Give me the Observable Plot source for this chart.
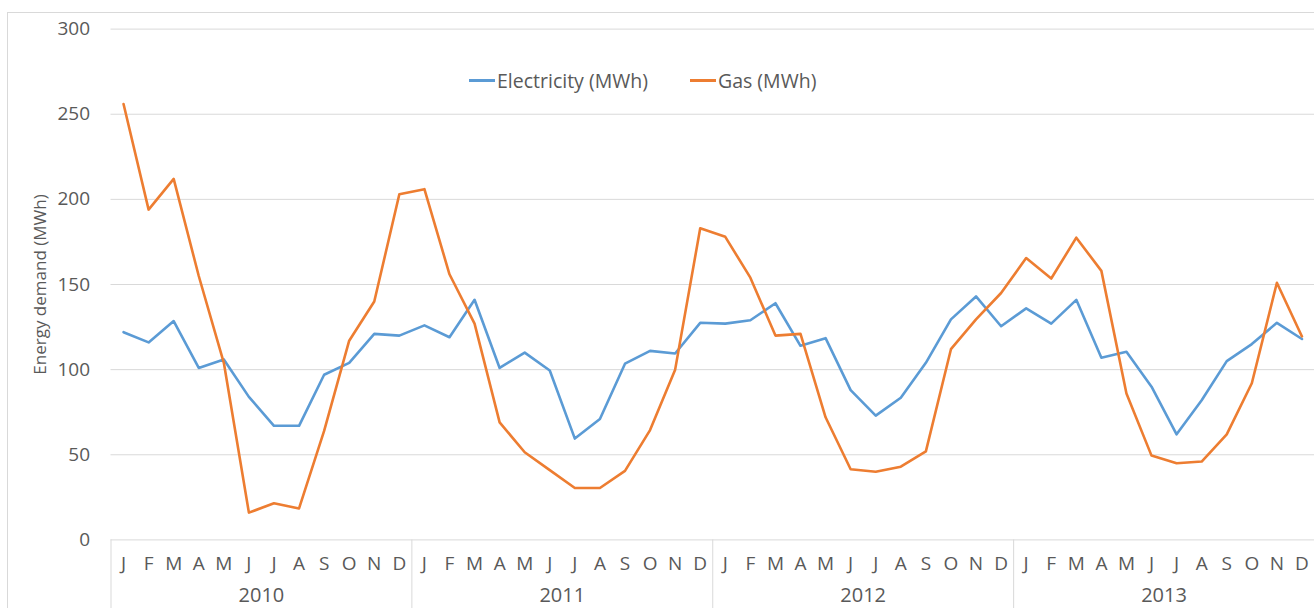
<!DOCTYPE html>
<html>
<head>
<meta charset="utf-8">
<script src="https://cdn.jsdelivr.net/npm/d3@7"></script>
<script src="https://cdn.jsdelivr.net/npm/@observablehq/plot@0.6"></script>
<style>
  html, body { margin: 0; padding: 0; background: #fff; overflow: hidden; }
  #wrap { position: relative; width: 1314px; height: 608px; }
  #border { position: absolute; left: 7px; top: 12px; width: 1400px; height: 700px;
            border: 1px solid #d9d9d9; box-sizing: border-box; }
  #chart { position: absolute; left: 0; top: 0; }
  #legend { position: absolute; top: 0; left: 0;
            font-family: "Open Sans", sans-serif; font-size: 19.5px; color: #595959; }
  #legend .item { position: absolute; top: 67px; display: flex; align-items: center; white-space: nowrap; }
  #legend .sw { display: inline-block; width: 26px; height: 0; border-top: 3px solid; margin-right: 2px; }
</style>
</head>
<body>
<div id="wrap">
  <div id="border"></div>
  <div id="chart"></div>
  <div id="legend"></div>
</div>
<script>
// Monthly energy demand, Jan 2010 – Dec 2013
const months = ["J", "F", "M", "A", "M", "J", "J", "A", "S", "O", "N", "D"];
const years = [2010, 2011, 2012, 2013];

const electricity = [
  122, 116, 128.5, 101, 106, 84, 67, 67, 97, 104, 121, 120,
  126, 119, 141, 101, 110, 99.5, 59.5, 71, 103.5, 111, 109.5, 127.5,
  127, 129, 139, 114, 118.5, 88, 73, 83.5, 104, 129.5, 143, 125.5,
  136, 127, 141, 107, 110.5, 90, 62, 82, 105, 115, 127.5, 118
];
const gas = [
  256, 194, 212, 155, 104, 16, 21.5, 18.5, 64, 117, 140, 203,
  206, 156, 127, 69, 51.5, 41, 30.5, 30.5, 40.5, 64.5, 100, 183,
  178, 154, 120, 121, 72, 41.5, 40, 43, 52, 112, 129.5, 145,
  165.5, 153.5, 177.5, 158, 86, 49.5, 45, 46, 62, 92, 151, 119.5
];

const seriesNames = ["Electricity (MWh)", "Gas (MWh)"];
const seriesColors = ["#5B9BD5", "#ED7D31"];
const yTicks = [0, 50, 100, 150, 200, 250, 300];

const rows = [];
electricity.forEach((v, i) => rows.push({i, value: v, series: seriesNames[0]}));
gas.forEach((v, i) => rows.push({i, value: v, series: seriesNames[1]}));

const monthIdx = d3.range(electricity.length);
const yearBounds = [-0.5, ...years.slice(1).map((y, k) => (k + 1) * 12 - 0.5)];
const yearMid = years.map((y, k) => k * 12 + 5.5);

const font = "'Open Sans', sans-serif";
const ink = "#595959";

const chart = Plot.plot({
  width: 1314,
  height: 608,
  marginLeft: 110.5,
  marginRight: 0,
  marginTop: 28.6,
  marginBottom: 68.6,
  style: {fontFamily: font, fontSize: "16px", color: ink, background: "transparent", overflow: "visible"},
  x: {domain: [-0.5, 47.5], axis: null},
  y: {domain: [0, 300], axis: null},
  color: {domain: seriesNames, range: seriesColors},
  marks: [
    Plot.ruleY(yTicks.filter(t => t > 0), {stroke: "#d9d9d9", strokeWidth: 1}),
    Plot.ruleY([0], {stroke: "#d9d9d9", strokeWidth: 1}),
    // group separators below the category axis
    Plot.axisX(yearBounds, {tickSize: 70, tickFormat: () => "", label: null, stroke: "#d9d9d9", strokeOpacity: 1}),
    // month letters
    Plot.axisX(monthIdx, {tickSize: 0, tickPadding: 17, label: null, tickFormat: i => months[i % 12], fontSize: 19, fill: ink}),
    // year labels
    Plot.axisX(yearMid, {tickSize: 0, tickPadding: 48, label: null, tickFormat: (d, k) => String(years[k]), fontSize: 20, fill: ink}),
    Plot.axisY(yTicks, {tickSize: 0, tickPadding: 21, label: null, fontSize: 19, fill: ink}),
    Plot.text(["Energy demand (MWh)"], {frameAnchor: "left", textAnchor: "middle", rotate: -90, dx: -70, fontSize: 17, fill: ink}),
    Plot.lineY(rows, {x: "i", y: "value", stroke: "series", strokeWidth: 2.6, strokeLinejoin: "round", strokeLinecap: "round"})
  ]
});
document.getElementById("chart").appendChild(chart);

// legend entries, placed above the series
const legendLeft = [469, 690];
const legend = document.getElementById("legend");
seriesNames.forEach((name, k) => {
  const item = document.createElement("span");
  item.className = "item";
  item.style.left = legendLeft[k] + "px";
  const sw = document.createElement("span");
  sw.className = "sw";
  sw.style.borderColor = seriesColors[k];
  item.appendChild(sw);
  item.appendChild(document.createTextNode(name));
  legend.appendChild(item);
});
</script>
</body>
</html>
